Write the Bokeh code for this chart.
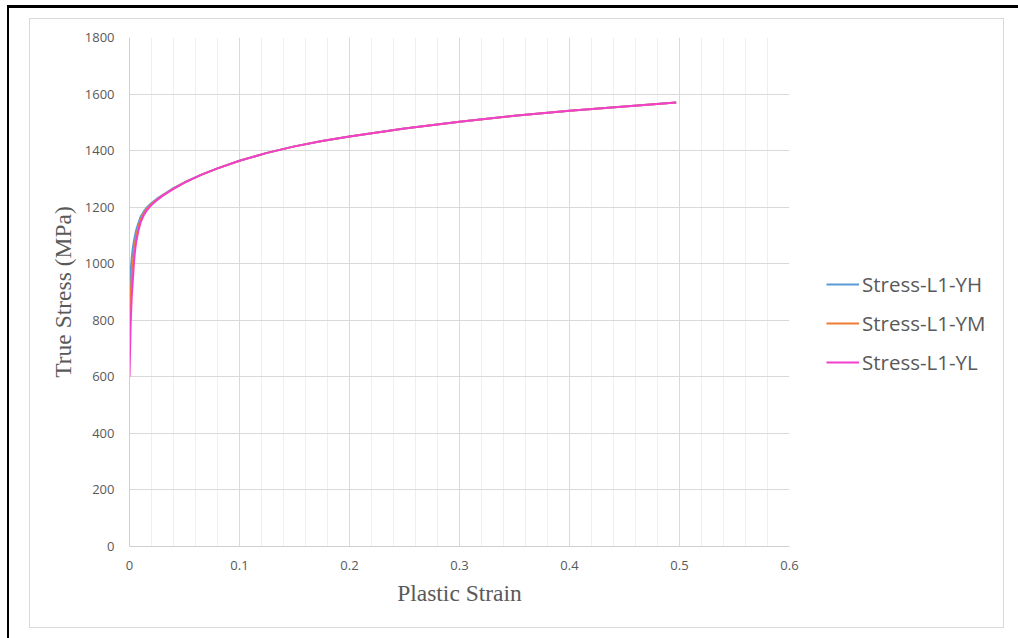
from bokeh.plotting import figure
from bokeh.models import (Range1d, FixedTicker, Legend, LegendItem,
                          CustomJSTickFormatter, InlineStyleSheet)
from bokeh.embed import file_html
from bokeh.resources import INLINE

# ---- data ----
strain = [0, 0.001, 0.002, 0.003, 0.004, 0.005, 0.006, 0.008, 0.010, 0.013, 0.016,
          0.020, 0.025, 0.030, 0.040, 0.050, 0.065, 0.080, 0.10, 0.125, 0.15, 0.175,
          0.20, 0.25, 0.30, 0.35, 0.40, 0.45, 0.497]
stress_yh = [890, 970, 1020, 1055, 1080, 1100, 1118, 1143, 1165, 1185, 1200,
             1215, 1230, 1243, 1267, 1288, 1314, 1337, 1364, 1392, 1415, 1434,
             1450, 1478, 1502, 1523, 1541, 1556, 1570]
stress_ym = [760, 880, 950, 1000, 1040, 1070, 1095, 1128, 1155, 1178, 1195,
             1211, 1227, 1241, 1266, 1287, 1314, 1337, 1364, 1392, 1415, 1434,
             1450, 1478, 1502, 1523, 1541, 1556, 1570]
stress_yl = [600, 780, 880, 940, 1000, 1045, 1075, 1115, 1145, 1172, 1190,
             1208, 1225, 1240, 1265, 1287, 1314, 1337, 1364, 1392, 1415, 1434,
             1450, 1478, 1502, 1523, 1541, 1556, 1570]
series_names = ["Stress-L1-YH", "Stress-L1-YM", "Stress-L1-YL"]
series_colors = ["#5B9BD5", "#ED7D31", "#F23FCE"]
x_ticks = [0, 0.1, 0.2, 0.3, 0.4, 0.5, 0.6]
x_minor = [0.02, 0.04, 0.06, 0.08, 0.12, 0.14, 0.16, 0.18, 0.22, 0.24, 0.26, 0.28,
           0.32, 0.34, 0.36, 0.38, 0.42, 0.44, 0.46, 0.48, 0.52, 0.54, 0.56, 0.58]
y_ticks = [0, 200, 400, 600, 800, 1000, 1200, 1400, 1600, 1800]

W, H = 1018, 638
p = figure(frame_width=660, frame_height=509, output_backend="svg", toolbar_location=None,
           x_range=Range1d(0, 0.6), y_range=Range1d(0, 1800),
           min_border_left=129, min_border_right=W - 789,
           min_border_top=37, min_border_bottom=H - 546)
p.outline_line_color = None
p.background_fill_color = "white"
p.border_fill_color = "white"

GRAY = "#595959"
for ax in (p.xaxis[0], p.yaxis[0]):
    ax.axis_line_color = "#D0D0D0"
    ax.axis_line_width = 1
    ax.major_tick_line_color = None
    ax.minor_tick_line_color = None
    ax.major_label_text_font = "Open Sans"
    ax.major_label_text_font_size = "13px"
    ax.major_label_text_color = GRAY
    ax.axis_label_text_font = "Liberation Serif"
    ax.axis_label_text_font_style = "normal"
    ax.axis_label_text_font_size = "23.5px"
    ax.axis_label_text_color = GRAY

p.xaxis.ticker = FixedTicker(ticks=x_ticks, minor_ticks=x_minor)
p.xaxis.formatter = CustomJSTickFormatter(code="return tick.toString();")
p.yaxis.ticker = FixedTicker(ticks=y_ticks)
p.xaxis.axis_label = "Plastic Strain"
p.yaxis.axis_label = "True Stress (MPa)"
p.xaxis.major_label_standoff = 8
p.yaxis.major_label_standoff = 9
p.xaxis.axis_label_standoff = 7
p.yaxis.axis_label_standoff = 6

p.xgrid.grid_line_color = "#D9D9D9"
p.xgrid.minor_grid_line_color = "#EFEFEF"
p.ygrid.grid_line_color = "#D9D9D9"

css = """
:host { position: relative; }
:host::before { content: ""; position: absolute; left: 7px; top: 5px; width: 1011px; height: 633px;
  border-top: 3px solid black; border-left: 2px solid black; box-sizing: border-box;
  z-index: 5; pointer-events: none; }
:host::after { content: ""; position: absolute; left: 29px; top: 18px; width: 975px; height: 610px;
  border: 1px solid #D9D9D9; box-sizing: border-box; z-index: 5; pointer-events: none; }
"""
p.stylesheets = [InlineStyleSheet(css=css)]

renderers = []
for ys, c in zip([stress_yh, stress_ym, stress_yl], series_colors):
    r = p.line(strain, ys, line_color=c, line_width=2)
    renderers.append(r)

legend = Legend(items=[LegendItem(label=n, renderers=[r]) for n, r in zip(series_names, renderers)],
                location=(37, 170), orientation="vertical",
                border_line_color=None, background_fill_color=None,
                padding=0, margin=0, spacing=11, glyph_width=33, glyph_height=20,
                label_height=20, label_standoff=3,
                label_text_font="Open Sans", label_text_font_size="20.5px",
                label_text_color=GRAY)
p.add_layout(legend, "right")

open("out.html", "w").write(file_html(p, INLINE))
